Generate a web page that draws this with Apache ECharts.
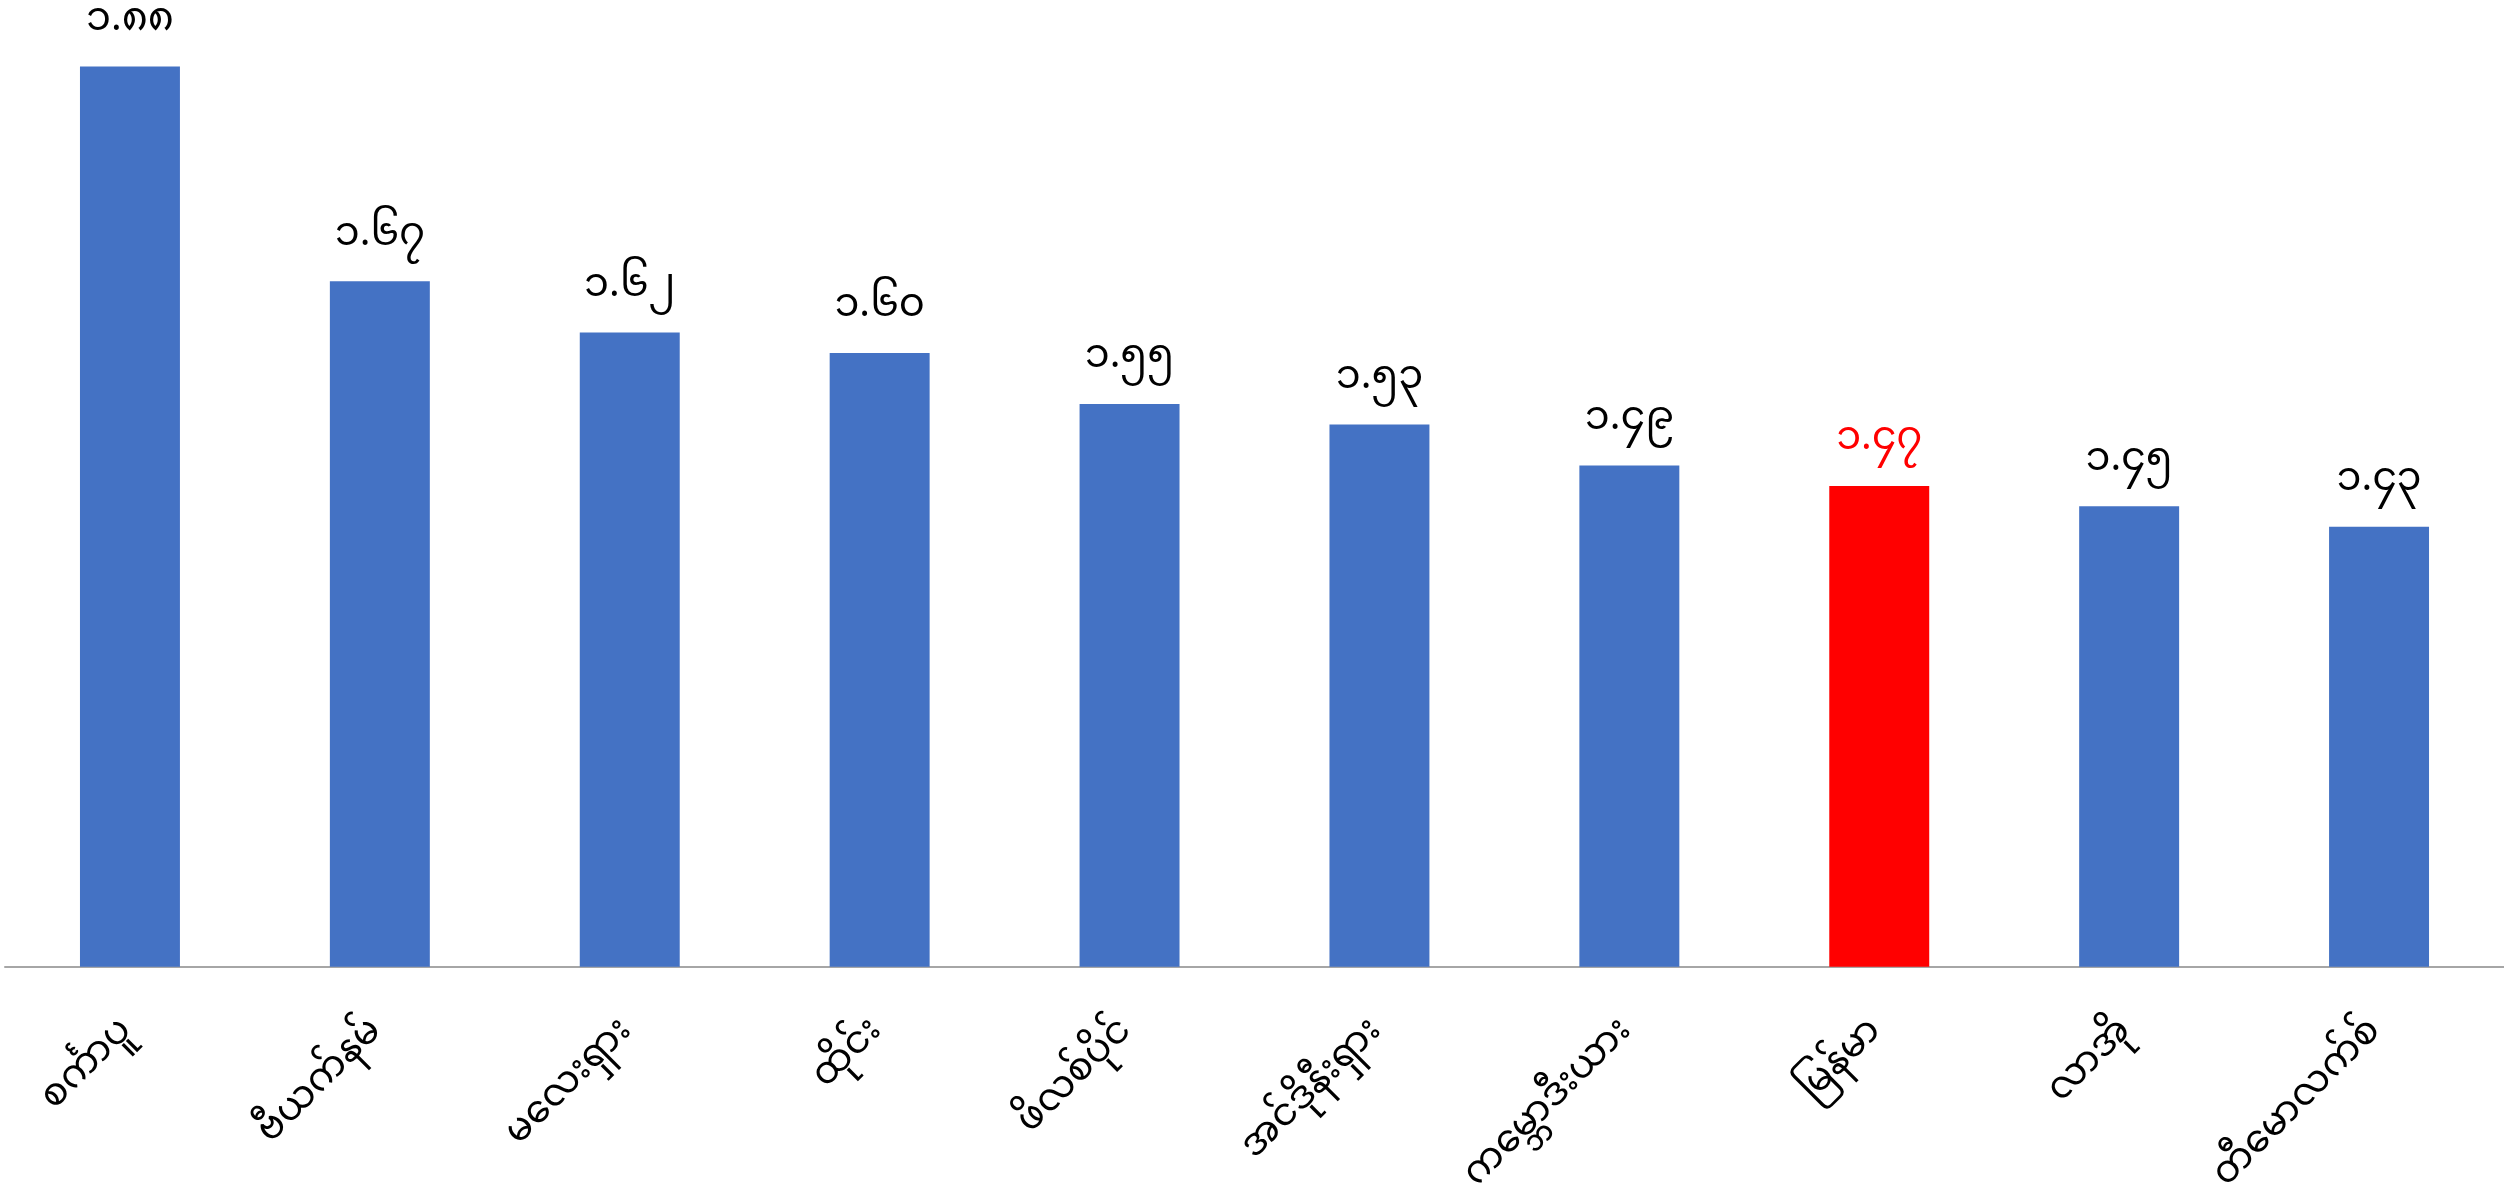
<!DOCTYPE html>
<html>
<head>
<meta charset="utf-8">
<script src="https://cdn.jsdelivr.net/npm/echarts@6/dist/echarts.min.js"></script>
<style>
  html, body { margin: 0; padding: 0; background: #fff; }
  #chart { width: 2504px; height: 1200px; }
</style>
</head>
<body>
<div id="chart"></div>
<script>
// ASEAN countries (Burmese names)
const countries = [
  "စင်္ကာပူ",
  "ဗီယက်နမ်",
  "မလေးရှား",
  "ထိုင်း",
  "ဖိလစ်ပိုင်",
  "အင်ဒိုနီးရှား",
  "ကမ္ဘောဒီးယား",
  "မြန်မာ",
  "လာအို",
  "တီမောလက်စ်"
];
const values = [1.88, 1.67, 1.62, 1.60, 1.55, 1.53, 1.49, 1.47, 1.45, 1.43];
const highlight = "မြန်မာ";

const BLUE = "#4472C4";
const RED = "#FF0000";
const FONT = '"Noto Sans Myanmar", "Myanmar Text", Padauk, "Noto Sans", sans-serif';

// western digits -> burmese digits
const mmDigits = ["၀", "၁", "၂", "၃", "၄", "၅", "၆", "၇", "၈", "၉"];
function toMM(v) {
  return v.toFixed(2).replace(/[0-9]/g, d => mmDigits[+d]);
}

const chart = echarts.init(document.getElementById("chart"));

const option = {
  animation: false,
  grid: { left: 5, right: 0, top: 0, bottom: 229 },
  xAxis: {
    type: "category",
    data: countries,
    axisLine: { lineStyle: { color: "#A6A6A6", width: 2 } },
    axisTick: { show: false },
    axisLabel: {
      rotate: 45,
      interval: 0,
      margin: 62,
      fontSize: 38,
      color: "#000",
      fontFamily: FONT
    }
  },
  yAxis: {
    type: "value",
    min: 1,
    max: 1.945,
    show: false,
    splitLine: { show: false }
  },
  series: [
    {
      type: "bar",
      barWidth: "40%",
      data: values.map((v, i) => ({
        value: v,
        itemStyle: { color: countries[i] === highlight ? RED : BLUE },
        label: { color: countries[i] === highlight ? RED : "#000" }
      })),
      label: {
        show: true,
        position: "top",
        distance: 21,
        fontSize: 40,
        fontFamily: FONT,
        formatter: p => toMM(p.value)
      }
    }
  ]
};

chart.setOption(option);
</script>
</body>
</html>
